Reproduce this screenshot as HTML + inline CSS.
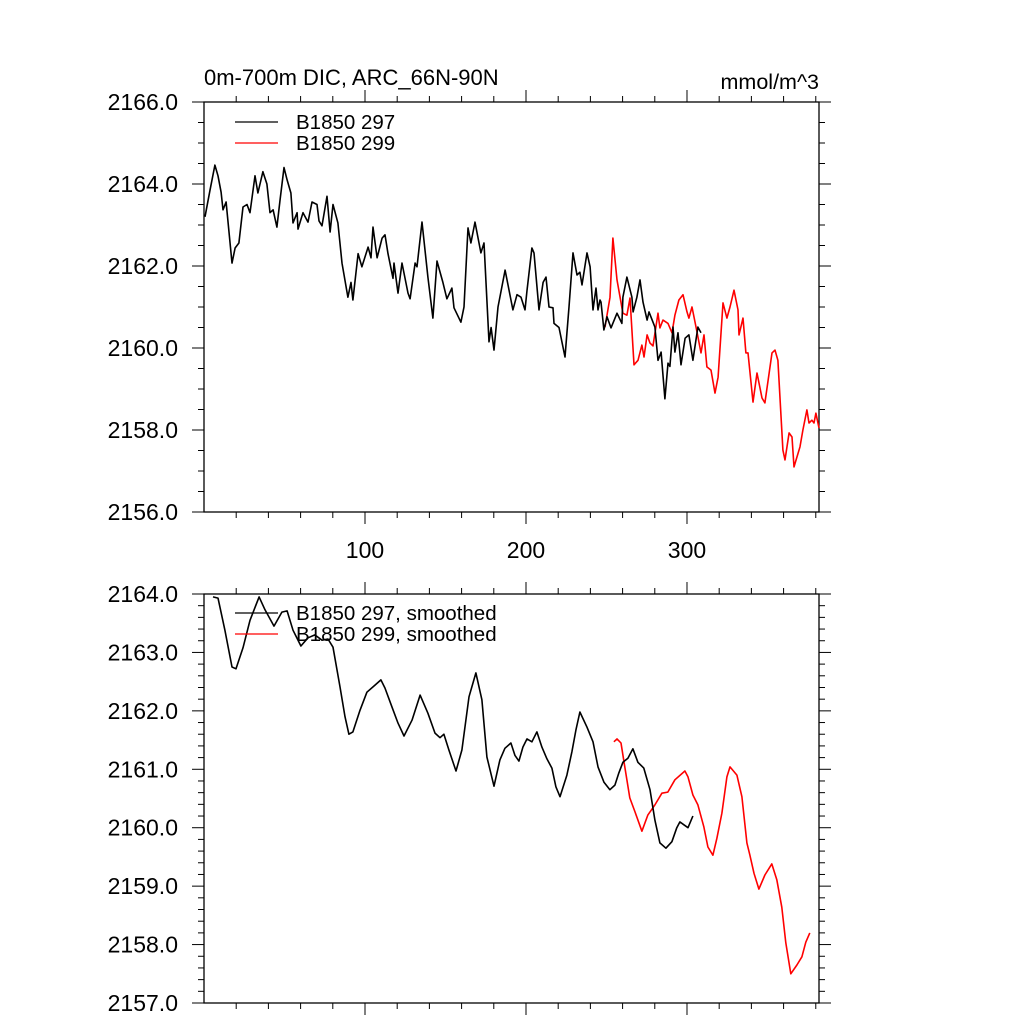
<!DOCTYPE html>
<html><head><meta charset="utf-8"><style>
html,body{margin:0;padding:0;background:#fff;}
svg{display:block;font-family:"Liberation Sans",sans-serif;}
</style></head><body>
<svg id="chart" width="1024" height="1024" viewBox="0 0 1024 1024" xmlns="http://www.w3.org/2000/svg">
<text x="204" y="85" font-size="22">0m-700m DIC, ARC_66N-90N</text>
<text x="819" y="89" font-size="21.5" text-anchor="end">mmol/m^3</text>
<g id="top"></g>
<g id="bot"></g>
</svg>
<script>
const topX297=[0.6,3.7,6.8,8.7,10.6,11.8,13.7,17.4,19.3,21.7,24.2,26.7,28.6,31.7,33.5,36.6,39.1,41,42.9,45.3,47.2,49.7,51.6,54,55.3,57.8,58.4,61.5,64.6,67.1,70.2,71.4,73.3,76.4,78.3,80.1,83.2,85.7,89.4,91.3,92.5,95.7,98.1,101.9,103.7,105,107.5,110.6,112.4,114.3,117.4,118,120.5,123,126.7,128,131.1,132.3,135.4,139.1,142.2,144.7,148.4,150.9,154,155.3,159.6,161.5,164,165.8,168.3,172,173.9,177,178.3,180.1,182.6,187,188.8,191.9,194.4,196.9,199.4,200.6,203.7,205,208.1,210.6,212.4,214.3,216.8,217.4,220.5,224.2,226.7,229.2,231.7,233.5,234.8,237.9,239.8,241.6,243.5,244.7,246,246.6,248.4,250.3,252.8,256.5,259.6,260.2,262.7,265.8,266.5,268.9,270.8,272.7,275.2,276.4,280.1,282,283.9,286.3,288.2,289.4,291.3,292.5,294.4,296.3,298.8,301.2,302.5,303.7,306.8,308.7];
const topY297=[2163.2,2163.85,2164.46,2164.2,2163.8,2163.37,2163.56,2162.07,2162.44,2162.56,2163.44,2163.5,2163.3,2164.2,2163.78,2164.3,2164.0,2163.3,2163.37,2162.95,2163.6,2164.4,2164.1,2163.78,2163.05,2163.3,2162.9,2163.3,2163.07,2163.56,2163.5,2163.1,2162.98,2163.7,2162.83,2163.5,2163.05,2162.07,2161.24,2161.6,2161.17,2162.3,2161.98,2162.46,2162.2,2162.95,2162.2,2162.68,2162.76,2162.3,2161.7,2162.07,2161.34,2162.07,2161.34,2161.2,2162.07,2161.98,2163.07,2161.73,2160.73,2162.12,2161.6,2161.2,2161.46,2160.98,2160.63,2161.0,2162.93,2162.56,2163.07,2162.32,2162.56,2160.15,2160.5,2159.95,2161.0,2161.9,2161.54,2160.93,2161.3,2161.24,2160.93,2161.4,2162.44,2162.32,2160.93,2161.6,2161.73,2161.0,2160.98,2160.6,2160.5,2159.78,2161.0,2162.32,2161.78,2161.85,2161.54,2162.32,2161.98,2160.93,2161.46,2160.93,2161.17,2161.12,2160.44,2160.76,2160.49,2160.85,2160.6,2161.24,2161.73,2161.24,2160.88,2161.24,2161.66,2161.12,2160.68,2160.88,2160.51,2159.7,2159.9,2158.76,2159.63,2159.55,2160.51,2159.9,2160.37,2159.59,2160.24,2160.32,2160.0,2159.7,2160.51,2160.37];
const topX299=[249.1,252.2,254,256.5,260.2,262.7,264.6,267.1,269.6,272,273.3,275.2,277,278.9,282,283.2,285.1,288.2,290.7,292.5,295,297.5,300,301.2,303.1,306.2,308.7,310.6,312.4,314.9,317.4,319.3,322.4,324.8,326.7,329.2,331.7,332.3,334.8,336.6,337.9,341,343.5,346.6,348.4,352.8,354.7,356.5,359.6,360.9,363.4,365.2,366.5,370.2,372,374.5,375.8,377.6,378.9,380.1,382];
const topY299=[2160.51,2161.24,2162.68,2161.66,2160.85,2160.8,2161.22,2159.59,2159.7,2160.07,2159.78,2160.32,2160.12,2160.05,2160.85,2160.49,2160.68,2160.6,2160.37,2160.8,2161.17,2161.3,2160.88,2160.73,2161.0,2160.39,2159.88,2160.32,2159.54,2159.46,2158.9,2159.29,2161.1,2160.73,2161.0,2161.41,2160.93,2160.32,2160.73,2159.88,2159.88,2158.68,2159.39,2158.78,2158.66,2159.88,2159.95,2159.7,2157.51,2157.27,2157.93,2157.83,2157.1,2157.59,2158.0,2158.49,2158.17,2158.24,2158.17,2158.41,2158.05];
const botX297=[5.6,8.7,13,17.4,19.9,24.2,28.6,34.2,37.9,43.5,48.4,51.6,55.3,60.2,64.6,68.9,73.3,77,80.1,84.5,87.6,90,92.5,96.9,101.2,106.2,109.9,112.4,116.7,120.5,124.2,129.2,134.2,139.1,143.5,146.6,149,152.1,156.5,160.2,164.6,168.9,172.6,175.7,180.1,183.8,186.9,190.6,193.1,195.6,198.1,200.6,203.7,206.8,209.9,213,216.1,218.6,221.1,225.4,228.5,231,233.5,237.9,241.6,244.7,248.4,252.1,255.2,257.7,260.2,263.3,266.4,269.5,273.2,277,280.1,283.2,286.9,290.6,293.7,295.6,298.1,300.6,303.7];
const botY297=[2163.95,2163.93,2163.38,2162.75,2162.72,2163.08,2163.55,2163.95,2163.73,2163.45,2163.69,2163.71,2163.38,2163.11,2163.25,2163.3,2163.21,2163.23,2163.09,2162.41,2161.9,2161.6,2161.64,2162.01,2162.32,2162.44,2162.53,2162.39,2162.07,2161.79,2161.57,2161.84,2162.27,2161.96,2161.62,2161.54,2161.6,2161.33,2160.97,2161.33,2162.24,2162.65,2162.19,2161.21,2160.71,2161.16,2161.36,2161.45,2161.24,2161.14,2161.38,2161.52,2161.47,2161.64,2161.38,2161.18,2161.02,2160.7,2160.53,2160.9,2161.3,2161.67,2161.98,2161.72,2161.47,2161.04,2160.78,2160.65,2160.73,2160.94,2161.12,2161.19,2161.35,2161.12,2161.02,2160.65,2160.13,2159.74,2159.65,2159.76,2160.0,2160.1,2160.05,2160.0,2160.2];
const botX299=[254.6,256.5,259,261.4,264.5,267.7,272,275.7,280.1,284.4,288.1,292.5,298.7,300.6,303.7,306.8,310.5,313,316.1,318.6,321.7,324.8,326.7,331,334.1,337.2,339.1,341.6,344.7,348.4,352.7,355.8,358.9,361.4,364.5,368.3,371.4,373.8,376.3];
const botY299=[2161.47,2161.52,2161.45,2161.04,2160.51,2160.27,2159.94,2160.22,2160.39,2160.59,2160.61,2160.82,2160.97,2160.87,2160.56,2160.39,2160.01,2159.67,2159.53,2159.82,2160.25,2160.87,2161.04,2160.9,2160.53,2159.74,2159.53,2159.22,2158.95,2159.19,2159.38,2159.11,2158.64,2158.03,2157.5,2157.65,2157.79,2158.04,2158.2];
const xTicks=[100,200,300];
const topYTicks=[2156,2158,2160,2162,2164,2166];
const botYTicks=[2157,2158,2159,2160,2161,2162,2163,2164];

const NS="http://www.w3.org/2000/svg";
const X0=204,X1=819,XMIN=0,XMAX=382;
function xs(v){return X0+(v-XMIN)/(XMAX-XMIN)*(X1-X0);}
function mk(tag,parent,attrs){const e=document.createElementNS(NS,tag);for(const k in attrs)e.setAttribute(k,attrs[k]);parent.appendChild(e);return e;}
function panel(g,yTop,yBot,ymin,ymax,yTicks,minorStep,labelsX,s1x,s1y,s2x,s2y,leg1,leg2,legY,prefix){
  const ys=v=>yBot-(v-ymin)/(ymax-ymin)*(yBot-yTop);
  const frame=mk('rect',g,{x:X0,y:yTop,width:X1-X0,height:yBot-yTop,fill:'none',stroke:'#000','stroke-width':1.3});
  
  
  for(let v=20;v<XMAX;v+=20){
    const maj=v%100===0,L=maj?12:6,x=xs(v);
    const t1=mk('line',g,{x1:x,x2:x,y1:yTop,y2:yTop-L,stroke:'#000','stroke-width':1});
    
    
    const t2=mk('line',g,{x1:x,x2:x,y1:yBot,y2:yBot+L,stroke:'#000','stroke-width':1});
    
    
  }
  if(labelsX){
    xTicks.forEach(v=>{
      const t=mk('text',g,{x:xs(v),y:yBot+46,'font-size':23,'text-anchor':'middle'});
      t.textContent=v;
      
      
    });
  }
  for(let v=ymin;v<=ymax+1e-6;v+=minorStep){
    const maj=yTicks.some(t=>Math.abs(t-v)<1e-6),L=maj?12:6,y=ys(v);
    const a=mk('line',g,{x1:X0,x2:X0-L,y1:y,y2:y,stroke:'#000','stroke-width':1});
    
    
    const b=mk('line',g,{x1:X1,x2:X1+L,y1:y,y2:y,stroke:'#000','stroke-width':1});
    
    
  }
  yTicks.forEach(v=>{
    const t=mk('text',g,{x:178,y:ys(v)+8,'font-size':23,'text-anchor':'end'});
    t.textContent=v.toFixed(1);
    
    
  });
  const line=(X,Y,c,n)=>{
    const p=mk('polyline',g,{points:X.map((x,i)=>xs(x).toFixed(1)+','+ys(Y[i]).toFixed(1)).join(' '),fill:'none',stroke:c,'stroke-width':1.6,'stroke-linejoin':'round'});
    
    
  };
  line(s2x,s2y,'#f00',prefix+'-series-b1850-299');
  line(s1x,s1y,'#000',prefix+'-series-b1850-297');
  [[leg1,'#000',legY],[leg2,'#f00',legY+21]].forEach(([txt,c,y])=>{
    const l=mk('line',g,{x1:235,x2:278,y1:y,y2:y,stroke:c,'stroke-width':1.3});
    
    
    const t=mk('text',g,{x:296,y:y+7,'font-size':20.5});
    t.textContent=txt;
    
    
  });
}
panel(document.getElementById('top'),102,512,2156,2166,topYTicks,0.5,true,topX297,topY297,topX299,topY299,'B1850 297','B1850 299',122,'top');
panel(document.getElementById('bot'),594,1003,2157,2164,botYTicks,0.2,false,botX297,botY297,botX299,botY299,'B1850 297, smoothed','B1850 299, smoothed',613,'bottom');
</script>
</body></html>
